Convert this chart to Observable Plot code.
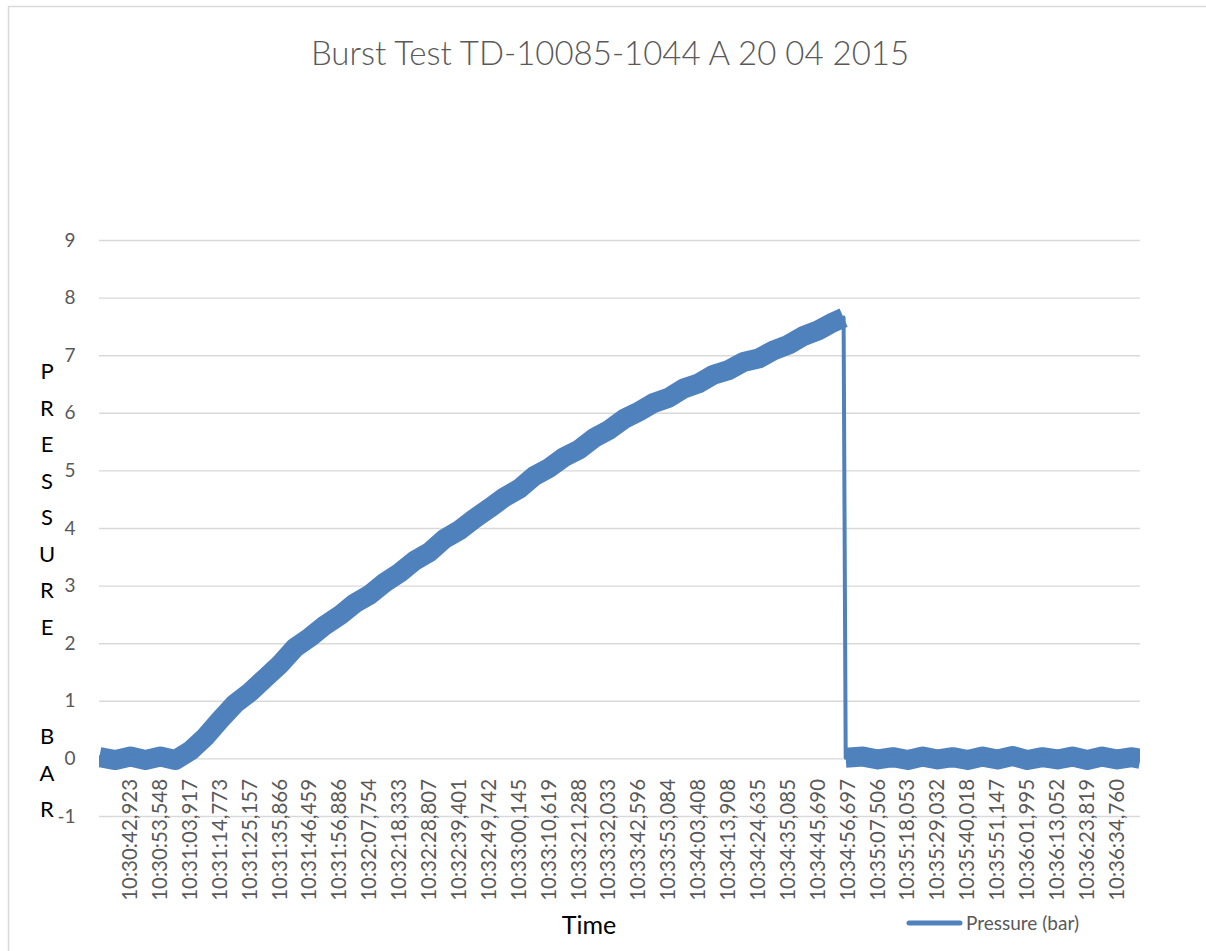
<!DOCTYPE html>
<html>
<head>
<meta charset="utf-8">
<script src="https://cdn.jsdelivr.net/npm/d3@7"></script>
<script src="https://cdn.jsdelivr.net/npm/@observablehq/plot@0.6"></script>
<style>
  html, body { margin: 0; padding: 0; background: #fff; }
  #wrap { position: relative; width: 1206px; height: 951px; overflow: hidden; font-family: Lato, "Open Sans", sans-serif; }
  #wrap > svg { position: absolute; left: 0; top: 0; }
</style>
</head>
<body>
<div id="wrap"></div>
<script>
// ---- data ----
const chartTitle = "Burst Test TD-10085-1044 A 20 04 2015";
const xTitle = "Time";
const yTitleLetters = ["P","R","E","S","S","U","R","E","","","B","A","R"];
const seriesName = "Pressure (bar)";
const yTicks = [-1, 0, 1, 2, 3, 4, 5, 6, 7, 8, 9];
const tickLabels = [
  "10:30:42,923","10:30:53,548","10:31:03,917","10:31:14,773","10:31:25,157","10:31:35,866",
  "10:31:46,459","10:31:56,886","10:32:07,754","10:32:18,333","10:32:28,807","10:32:39,401",
  "10:32:49,742","10:33:00,145","10:33:10,619","10:33:21,288","10:33:32,033","10:33:42,596",
  "10:33:53,084","10:34:03,408","10:34:13,908","10:34:24,635","10:34:35,085","10:34:45,690",
  "10:34:56,697","10:35:07,506","10:35:18,053","10:35:29,032","10:35:40,018","10:35:51,147",
  "10:36:01,995","10:36:13,052","10:36:23,819","10:36:34,760"
];
// sample positions in units of the label interval (label k sits at k)
const sampleIndex = [
  -1.04,-0.5,0,0.5,1,1.5,2,2.5,3,3.5,4,4.5,5,5.5,6,6.5,7,7.5,8,8.5,9,9.5,10,10.5,11,11.5,
  12,12.5,13,13.5,14,14.5,15,15.5,16,16.5,17,17.5,18,18.5,19,19.5,20,20.5,21,21.5,22,22.5,
  23,23.5,23.85,
  23.92,24.5,25,25.5,26,26.5,27,27.5,28,28.5,29,29.5,30,30.5,31,31.5,32,32.5,33,33.5,33.78
];
const pressure = [
  0.03,-0.02,0.04,-0.02,0.04,-0.02,0.14,0.38,0.68,0.96,1.16,1.40,1.64,1.93,2.11,2.32,2.49,2.70,
  2.85,3.06,3.23,3.44,3.59,3.82,3.97,4.17,4.35,4.54,4.69,4.91,5.05,5.24,5.37,5.57,5.71,5.90,
  6.03,6.18,6.27,6.43,6.52,6.67,6.75,6.89,6.95,7.09,7.19,7.34,7.44,7.58,7.66,
  0.02,0.04,-0.01,0.03,-0.02,0.04,-0.01,0.03,-0.02,0.04,-0.01,0.05,-0.02,0.03,-0.01,0.04,
  -0.02,0.04,-0.01,0.03,0.00
];
const burstIndex = 23.9;

// ---- build ----
const blue = "#4f81bd";
const data = sampleIndex.map((u, i) => ({u, p: pressure[i], phase: u < burstIndex ? "before" : "after"}));
const ticks = tickLabels.map((label, k) => ({k, label}));

const plot = Plot.plot({
  width: 1206,
  height: 951,
  marginLeft: 99,
  marginRight: 66,
  marginTop: 240,
  marginBottom: 135,
  style: {fontFamily: "Lato, 'Open Sans', sans-serif", fontSize: "19px", background: "transparent"},
  x: {domain: [-1.037, 33.78], axis: null},
  y: {domain: [-1, 9], axis: null},
  marks: [
    Plot.gridY(yTicks, {stroke: "#d9d9d9", strokeOpacity: 1, strokeWidth: 1.4}),
    Plot.axisY(yTicks, {tickSize: 0, tickPadding: 24, fill: "#595959", fontSize: 19,
      label: null, tickFormat: d => String(d)}),
    Plot.line(data, {x: "u", y: "p", z: "phase", stroke: blue, strokeWidth: 20,
      strokeLinejoin: "round", strokeLinecap: "butt", clip: true, curve: "linear"}),
    Plot.line(data, {x: "u", y: "p", stroke: blue, strokeWidth: 4, clip: true}),
    Plot.text(ticks, {x: "k", y: 0, text: "label", rotate: -90, textAnchor: "end",
      lineAnchor: "middle", dy: 20, fill: "#595959", fontSize: 20.5})
  ]
});
document.getElementById("wrap").appendChild(plot);

// overlay: chart frame, titles, legend
const ov = d3.select("#wrap").append("svg")
  .attr("width", 1206).attr("height", 951)
  .style("font-family", "Lato, 'Open Sans', sans-serif");
ov.append("rect").attr("x", 8.5).attr("y", 6.5).attr("width", 1300).attr("height", 1100)
  .attr("fill", "none").attr("stroke", "#d9d9d9").attr("stroke-width", 1.5);
ov.append("text").attr("x", 610).attr("y", 65).attr("text-anchor", "middle")
  .attr("font-size", 33).attr("font-weight", 300).attr("fill", "#595959").text(chartTitle);
ov.append("text").attr("x", 589).attr("y", 934).attr("text-anchor", "middle")
  .attr("font-size", 25).attr("fill", "#000").text(xTitle);
const yt = ov.append("text").attr("font-size", 22).attr("fill", "#000").attr("text-anchor", "middle");
yTitleLetters.forEach((ch, i) => {
  yt.append("tspan").attr("x", 47).attr("y", 379 + i * 36.5).text(ch);
});
ov.append("line").attr("x1", 909).attr("x2", 960).attr("y1", 923).attr("y2", 923)
  .attr("stroke", blue).attr("stroke-width", 5).attr("stroke-linecap", "round");
ov.append("text").attr("x", 966).attr("y", 930).attr("font-size", 19).attr("fill", "#595959").text(seriesName);
</script>
</body>
</html>
